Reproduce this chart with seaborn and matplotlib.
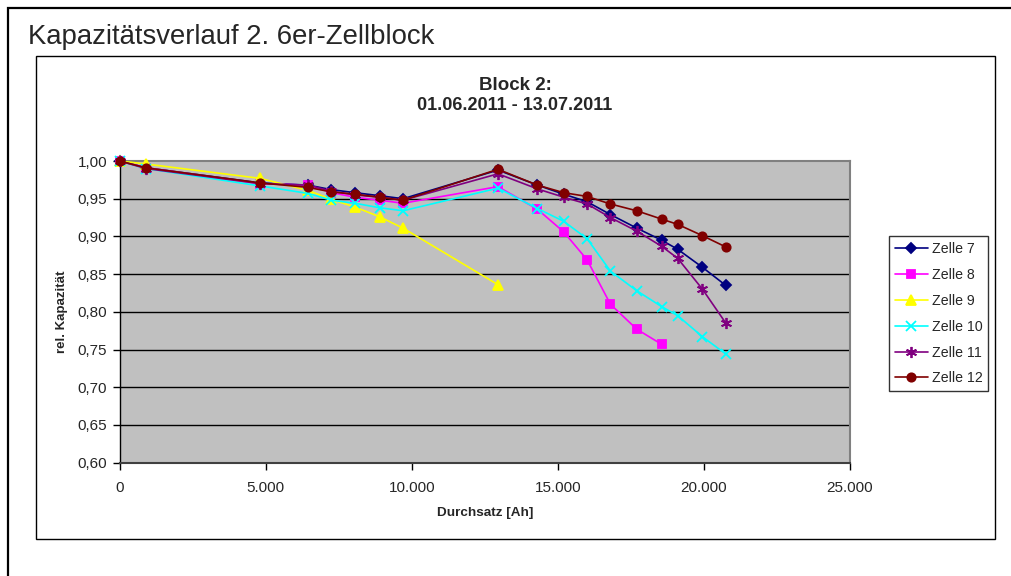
import numpy as np
import pandas as pd
import seaborn as sns
import matplotlib.pyplot as plt
from matplotlib.patches import Rectangle

# =========================
# Data
# =========================
x_full = [0, 900, 4800, 6450, 7250, 8050, 8900, 9700, 12950, 14300, 15200,
          16000, 16800, 17700, 18550, 19100, 19950, 20750]

zelle_7 = [1.000, 0.991, 0.971, 0.968, 0.962, 0.958, 0.954, 0.950, 0.988, 0.968,
           0.956, 0.946, 0.929, 0.911, 0.895, 0.883, 0.859, 0.835]
zelle_8 = [1.000, 0.991, 0.970, 0.968, 0.958, 0.952, 0.948, 0.944, 0.966, 0.936,
           0.906, 0.869, 0.810, 0.777, 0.757]
zelle_9 = [1.000, 0.996, 0.977, 0.961, 0.949, 0.939, 0.926, 0.911, 0.836]
zelle_10 = [1.000, 0.990, 0.967, 0.957, 0.948, 0.944, 0.938, 0.934, 0.964, 0.937,
            0.920, 0.897, 0.854, 0.828, 0.807, 0.795, 0.767, 0.744]
zelle_11 = [1.000, 0.990, 0.970, 0.968, 0.960, 0.955, 0.952, 0.948, 0.983, 0.963,
            0.952, 0.943, 0.925, 0.907, 0.887, 0.871, 0.830, 0.785]
zelle_12 = [1.000, 0.991, 0.971, 0.965, 0.959, 0.956, 0.952, 0.948, 0.989, 0.968,
            0.958, 0.953, 0.943, 0.934, 0.923, 0.916, 0.901, 0.886]

names = ["Zelle 7", "Zelle 8", "Zelle 9", "Zelle 10", "Zelle 11", "Zelle 12"]
series = [zelle_7, zelle_8, zelle_9, zelle_10, zelle_11, zelle_12]

x_ticks = [0, 5000, 10000, 15000, 20000, 25000]
x_ticklabels = ["0", "5.000", "10.000", "15.000", "20.000", "25.000"]
y_ticks = [0.60, 0.65, 0.70, 0.75, 0.80, 0.85, 0.90, 0.95, 1.00]
y_ticklabels = ["0,60", "0,65", "0,70", "0,75", "0,80", "0,85", "0,90", "0,95", "1,00"]

# long table for seaborn
rows = []
for name, vals in zip(names, series):
    for xv, yv in zip(x_full[:len(vals)], vals):
        rows.append({"Durchsatz": xv, "Kapazitaet": yv, "Zelle": name})
df = pd.DataFrame(rows)

# =========================
# Style
# =========================
sns.set_style("white")
plt.rcParams["font.family"] = ["Liberation Sans", "DejaVu Sans"]

palette = {
    "Zelle 7": "#000080",
    "Zelle 8": "#FF00FF",
    "Zelle 9": "#FFFF00",
    "Zelle 10": "#00FFFF",
    "Zelle 11": "#800080",
    "Zelle 12": "#800000",
}
markers = {
    "Zelle 7": "D",
    "Zelle 8": "s",
    "Zelle 9": "^",
    "Zelle 10": "x",
    "Zelle 11": (6, 2, 0),
    "Zelle 12": "o",
}
msizes = {"Zelle 7": 5.5, "Zelle 8": 6, "Zelle 9": 6.5, "Zelle 10": 7,
          "Zelle 11": 8, "Zelle 12": 6}

# =========================
# Figure
# =========================
W, H = 1011, 576
fig = plt.figure(figsize=(W / 100, H / 100), dpi=100)

# outer frame and chart area frame
fig.patches.append(Rectangle((8 / W, -0.1), 1.2, 1.1 - 8 / H,
                             transform=fig.transFigure, fill=False,
                             edgecolor="black", lw=1.6, zorder=0))
fig.patches.append(Rectangle((36 / W, 1 - 539 / H), (995 - 36) / W, (539 - 56) / H,
                             transform=fig.transFigure, fill=False,
                             edgecolor="black", lw=1.0, zorder=0))

ax = fig.add_axes([119.7 / W, 1 - 462.7 / H, (850 - 119.7) / W, (462.7 - 161) / H])
ax.set_facecolor("#C0C0C0")

for name in names:
    sub = df[df["Zelle"] == name]
    sns.lineplot(data=sub, x="Durchsatz", y="Kapazitaet", color=palette[name],
                 marker=markers[name], markersize=msizes[name],
                 markeredgecolor=palette[name], markeredgewidth=1.3,
                 linewidth=1.2, estimator=None, label=name, ax=ax, zorder=3,
                 clip_on=False)

ax.set_xlim(0, 25000)
ax.set_ylim(0.60, 1.00)
ax.set_xticks(x_ticks)
ax.set_xticklabels(x_ticklabels)
ax.set_yticks(y_ticks)
ax.set_yticklabels(y_ticklabels)
ax.tick_params(axis="both", direction="out", length=5, width=1, color="black",
               labelsize=11, pad=4, left=True, bottom=True)
ax.tick_params(axis="x", pad=8)

for yv in y_ticks[1:-1]:
    ax.axhline(yv, color="black", lw=1.0, zorder=1)

for side in ["left", "bottom"]:
    ax.spines[side].set_color("black")
    ax.spines[side].set_linewidth(1.0)
ax.spines["bottom"].set_color("#404040")
ax.spines["bottom"].set_linewidth(1.5)
for side in ["top", "right"]:
    ax.spines[side].set_color("#808080")
    ax.spines[side].set_linewidth(1.5)

ax.set_xlabel("Durchsatz [Ah]", fontsize=9.7, fontweight="bold")
ax.set_ylabel("rel. Kapazität", fontsize=9.5, fontweight="bold")
ax.xaxis.label.set_va("center")
ax.yaxis.label.set_va("center")
ax.xaxis.set_label_coords(0.5, (462.7 - 513) / 301.7)
ax.yaxis.set_label_coords((62 - 119.7) / 730.3, 0.5)

# titles
fig.text(28 / W, 1 - 37 / H, "Kapazitätsverlauf 2. 6er-Zellblock", fontsize=19.8,
         ha="left", va="center")
fig.text(515 / W, 1 - 85 / H, "Block 2:", fontsize=13.5, fontweight="bold",
         ha="center", va="center")
fig.text(515 / W, 1 - 105 / H, "01.06.2011 - 13.07.2011", fontsize=13,
         fontweight="bold", ha="center", va="center")

# legend
handles, labels = ax.get_legend_handles_labels()
leg = ax.legend(handles, labels, loc="upper left",
                bbox_to_anchor=(889 / W, 1 - 236 / H), bbox_transform=fig.transFigure,
                borderaxespad=0, frameon=True, fancybox=False, fontsize=10.2,
                handlelength=2.3, labelspacing=0.84, borderpad=0.42,
                handletextpad=0.3)
leg.get_frame().set_edgecolor("black")
leg.get_frame().set_linewidth(1.0)
leg.get_frame().set_facecolor("white")

fig.savefig("out.png", dpi=100)
